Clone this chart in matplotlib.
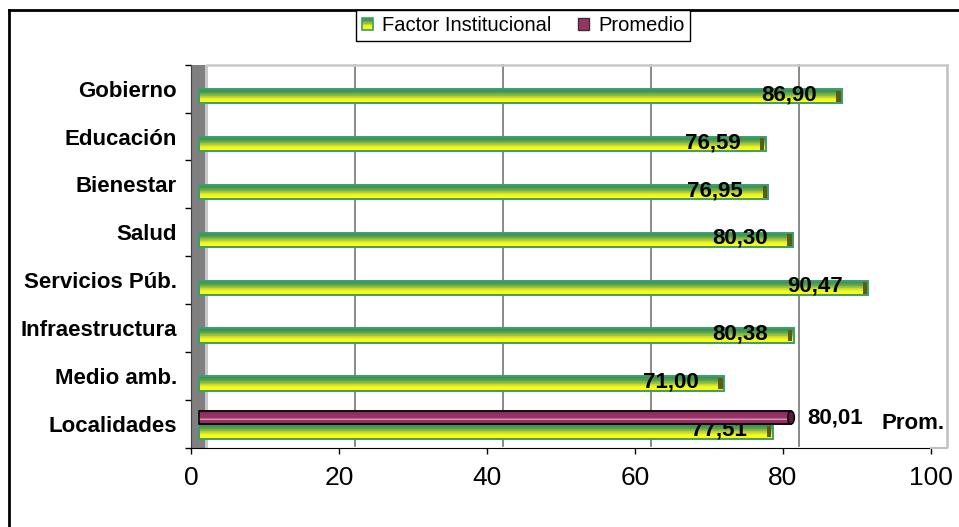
import numpy as np
import matplotlib
matplotlib.use("Agg")
import matplotlib.pyplot as plt
from matplotlib.transforms import ScaledTranslation
from matplotlib.colors import LinearSegmentedColormap
from matplotlib.patches import Rectangle, Ellipse, Patch
from matplotlib.lines import Line2D
from matplotlib.legend_handler import HandlerBase

# ---- data -------------------------------------------------------------
categories = ["Gobierno", "Educación", "Bienestar", "Salud",
              "Servicios Púb.", "Infraestructura", "Medio amb.", "Localidades"]
factor_values = [86.90, 76.59, 76.95, 80.30, 90.47, 80.38, 71.00, 77.51]
promedio_values = [np.nan, np.nan, np.nan, np.nan, np.nan, np.nan, np.nan, 80.01]
x_ticks = [0, 20, 40, 60, 80, 100]
series_names = ["Factor Institucional", "Promedio"]
prom_tag = "Prom."

# ---- styling ------------------------------------------------------------
plt.rcParams["font.family"] = ["Liberation Sans", "DejaVu Sans"]
DPI = 100
W, H = 959, 527

factor_cmap = LinearSegmentedColormap.from_list(
    "factor", [(0.0, "#2e8b57"), (0.25, "#4f9e52"), (0.5, "#aac83a"),
               (0.68, "#eef022"), (0.85, "#ffff10"), (1.0, "#f2f200")])
prom_cmap = LinearSegmentedColormap.from_list(
    "prom", [(0.0, "#6a1d47"), (0.25, "#933063"), (0.55, "#9c3569"),
             (0.62, "#d9a3c0"), (0.68, "#9c3569"), (1.0, "#7a2552")])
FACTOR_EDGE = "#3a9f6a"
FACTOR_CAP = "#5c5c10"
PROM_CAP = "#5c1a3c"


def fx(px):
    return px / W


def fy(py):
    return 1 - py / H


fig = plt.figure(figsize=(W / DPI, H / DPI), dpi=DPI)
fig.patch.set_facecolor("white")

ax = fig.add_axes([fx(191), fy(447.7), 740 / W, (447.7 - 64.7) / H])
ax.set_xlim(0, 100)
ax.set_ylim(len(categories) - 0.5, -0.5)
ax.patch.set_visible(False)
for name, sp in ax.spines.items():
    sp.set_visible(name in ("left", "bottom"))
ax.spines["left"].set_color("#404040")
ax.spines["bottom"].set_color("black")
ax.spines["left"].set_zorder(6)
ax.spines["bottom"].set_zorder(6)


def shift(dx_px, dy_px=0):
    """Data transform moved by a number of pixels (dy positive = down)."""
    return ax.transData + ScaledTranslation(dx_px / DPI, -dy_px / DPI,
                                            fig.dpi_scale_trans)


# ---- 3D-like back wall and gridlines ----------------------------------
DEPTH = 16  # pixels between front axis and back wall
fig.add_artist(Rectangle((fx(192), fy(447.7)), 13 / W, (447.7 - 64.7) / H,
                         transform=fig.transFigure, facecolor="#808080",
                         edgecolor="none", zorder=0))
fig.add_artist(Rectangle((fx(205), fy(447.7)), 2.5 / W, (447.7 - 64.7) / H,
                         transform=fig.transFigure, facecolor="#c8c8c8",
                         edgecolor="none", zorder=0))

gt = shift(DEPTH, 0)
ylo, yhi = ax.get_ylim()
for v in x_ticks[1:-1]:
    ax.plot([v, v], [yhi, ylo - 0.04], color="#808080", lw=1.3,
            transform=gt, zorder=1, clip_on=False)
ax.plot([x_ticks[-1], x_ticks[-1]], [yhi, ylo - 0.04], color="#c0c0c0",
        lw=1.8, transform=gt, zorder=1, clip_on=False)
ax.plot([0, x_ticks[-1]], [yhi, yhi], color="#c8c8c8", lw=1.8,
        transform=gt, zorder=1, clip_on=False)
fig.add_artist(Line2D([fx(931), fx(947)], [fy(447.5), fy(447.5)],
                      transform=fig.transFigure, color="#c0c0c0", lw=1.5))

# ---- ticks --------------------------------------------------------------
ax.set_xticks(x_ticks)
ax.set_xticklabels([str(t) for t in x_ticks])
ax.tick_params(axis="x", direction="out", length=4, width=1, colors="black",
               labelsize=19, pad=9)
ypos = np.arange(len(categories))
ax.set_yticks(ypos)
ax.set_yticklabels(categories, fontsize=16, fontweight="bold")
ax.tick_params(axis="y", which="major", length=0, pad=10)
ax.set_yticks(np.arange(-0.5, len(categories)), minor=True)
ax.tick_params(axis="y", which="minor", direction="out", length=4,
               width=1, color="black")

# ---- bars ---------------------------------------------------------------
BAR_SHIFT = 8          # pixels, front face offset
BAR_H = 0.30
FACTOR_OFF = 0.16
PROM_OFF = -0.13
N_STRIPES = 20
CAP_W = 0.6
bt = shift(BAR_SHIFT, 0)


def gradient_bar(yc, value, cmap, zorder):
    h = BAR_H / N_STRIPES
    for k in range(N_STRIPES):
        t = (k + 0.5) / N_STRIPES
        ax.barh(yc - BAR_H / 2 + (k + 0.5) * h, value, height=h * 1.12,
                left=0, color=cmap(t), linewidth=0, transform=bt,
                zorder=zorder)


for i, v in enumerate(factor_values):
    yc = i + FACTOR_OFF
    gradient_bar(yc, v, factor_cmap, 2)
    ax.barh(yc, v, height=BAR_H, left=0, fill=False, edgecolor=FACTOR_EDGE,
            linewidth=1.4, transform=bt, zorder=2.5)
    ax.barh(yc, CAP_W, height=BAR_H * 0.8, left=v - CAP_W - 0.2,
            color=FACTOR_CAP, linewidth=0, transform=bt, zorder=2.6)
    ax.text(v - 7.2, yc - 0.03, f"{v:.2f}".replace(".", ","),
            ha="center", va="center", fontsize=16, fontweight="bold",
            color="black", transform=bt, zorder=3)

for i, v in enumerate(promedio_values):
    if np.isnan(v):
        continue
    yc = i + PROM_OFF
    gradient_bar(yc, v, prom_cmap, 4)
    ax.barh(yc, v, height=BAR_H * 0.92, left=0, fill=False,
            edgecolor="black", linewidth=1.1, transform=bt, zorder=4.5)
    ax.add_patch(Ellipse((v, yc), width=0.9, height=BAR_H * 0.92,
                         facecolor=PROM_CAP, edgecolor="black", lw=1.0,
                         transform=bt, zorder=4.6))
    ax.text(v, yc, f"{v:.2f}".replace(".", ","), ha="left", va="center",
            fontsize=16, fontweight="bold", color="black",
            transform=shift(BAR_SHIFT + 16, 0), zorder=5)
    ax.text(x_ticks[-1], yc, prom_tag, ha="right", va="center",
            fontsize=16, fontweight="bold", color="black",
            transform=shift(14, 6), zorder=5)


# ---- legend -------------------------------------------------------------
class GradientSwatch(HandlerBase):
    def __init__(self, cmap, edge):
        super().__init__()
        self.cmap = cmap
        self.edge = edge

    def create_artists(self, legend, orig_handle, xdescent, ydescent,
                       width, height, fontsize, trans):
        x0, y0 = -xdescent, -ydescent
        n = 8
        arts = []
        for k in range(n):
            t = (k + 0.5) / n
            arts.append(Rectangle((x0, y0 + height * (n - k - 1) / n), width,
                                  height / n * 1.05, facecolor=self.cmap(t),
                                  edgecolor="none", transform=trans))
        arts.append(Rectangle((x0, y0), width, height, fill=False,
                              edgecolor=self.edge, lw=1.2, transform=trans))
        return arts


h_factor = Patch(facecolor="#c8d830", edgecolor=FACTOR_EDGE)
h_prom = Patch(facecolor="#993366", edgecolor="#333333", linewidth=1)
leg = fig.legend([h_factor, h_prom], series_names, loc="upper left",
                 bbox_to_anchor=(fx(356), fy(10)), ncol=2, frameon=True,
                 fancybox=False, edgecolor="black", framealpha=1,
                 fontsize=14.5, handlelength=0.55, handleheight=0.55,
                 handletextpad=0.45, columnspacing=1.3, borderpad=0.3,
                 borderaxespad=0,
                 handler_map={h_factor: GradientSwatch(factor_cmap,
                                                       FACTOR_EDGE)})
leg.get_frame().set_linewidth(1.0)

# ---- chart border -------------------------------------------------------
fig.add_artist(Line2D([fx(9), fx(9)], [0, fy(10)], transform=fig.transFigure,
                      color="black", lw=2))
fig.add_artist(Line2D([fx(9), 1], [fy(10), fy(10)], transform=fig.transFigure,
                      color="black", lw=2))

fig.savefig("out.png", dpi=DPI, facecolor="white")
